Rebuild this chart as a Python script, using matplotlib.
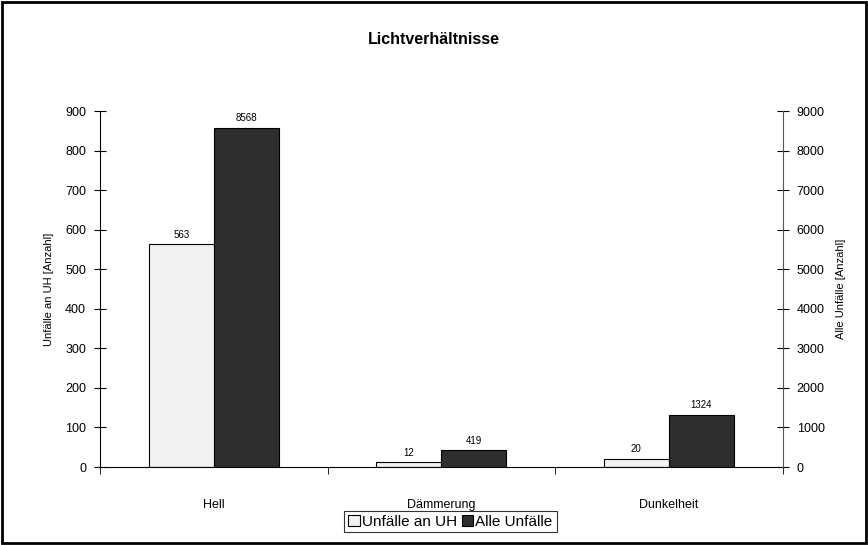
import numpy as np
import matplotlib.pyplot as plt
from matplotlib.patches import Rectangle

plt.rcParams['font.family'] = ['Liberation Sans', 'DejaVu Sans']

categories = ['Hell', 'Dämmerung', 'Dunkelheit']
uh_values = [563, 12, 20]
all_values = [8568, 419, 1324]

fig = plt.figure(figsize=(8.68, 5.45), dpi=100)
fig.patches.append(Rectangle((0.002, 0.003), 0.996, 0.994, transform=fig.transFigure,
                             fill=False, edgecolor='black', linewidth=2))
fig.text(0.5, 0.927, 'Lichtverhältnisse', ha='center', va='center',
         fontsize=11.5, fontweight='bold')

ax = fig.add_axes([0.1152, 0.1431, 0.7865, 0.6532])
ax2 = ax.twinx()

x = np.arange(len(categories))
w = 0.2857
b1 = ax.bar(x - w / 2, uh_values, w, color='#f2f2f2', edgecolor='black', linewidth=0.8,
            label='Unfälle an UH', zorder=2)
b2 = ax2.bar(x + w / 2, all_values, w, color='#2e2e2e', edgecolor='black', linewidth=0.8,
             label='Alle Unfälle', zorder=2)

for rect, v in zip(b1, uh_values):
    ax.text(rect.get_x() + rect.get_width() / 2, v + 12, str(v), ha='center', va='bottom', fontsize=7)
for rect, v in zip(b2, all_values):
    ax2.text(rect.get_x() + rect.get_width() / 2, v + 120, str(v), ha='center', va='bottom', fontsize=7)

ax.set_xlim(-0.5, 2.5)
ax.set_ylim(0, 900)
ax2.set_ylim(0, 9000)
ax.set_yticks(np.arange(0, 901, 100))
ax2.set_yticks(np.arange(0, 9001, 1000))

ax.set_xticks(x)
ax.set_xticklabels(categories, fontsize=9)
ax.set_xticks([-0.5, 0.5, 1.5, 2.5], minor=True)
ax.tick_params(axis='x', which='major', length=0, pad=23)
ax.tick_params(axis='x', which='minor', length=5, direction='out')
ax.tick_params(axis='y', direction='inout', length=8, labelsize=9, pad=6)
ax2.tick_params(axis='y', direction='inout', length=8, labelsize=9, pad=6)

for a in (ax, ax2):
    a.spines['top'].set_visible(False)
ax.spines['right'].set_visible(False)
ax2.spines['left'].set_visible(False)
ax2.spines['bottom'].set_visible(False)
ax2.spines['right'].set_color('#555555')

ax.set_ylabel('Unfälle an UH [Anzahl]', fontsize=8, labelpad=8)
ax2.set_ylabel('Alle Unfälle [Anzahl]', fontsize=8, labelpad=8)

leg = fig.legend([b1, b2], ['Unfälle an UH', 'Alle Unfälle'], loc='center',
                 bbox_to_anchor=(0.519, 0.043), ncol=2, fontsize=11, frameon=True,
                 fancybox=False, edgecolor='black', handlelength=0.75, handleheight=0.75,
                 handletextpad=0.15, columnspacing=0.3, borderpad=0.25, borderaxespad=0)
leg.get_frame().set_linewidth(0.8)

fig.savefig('out.png', dpi=100)
